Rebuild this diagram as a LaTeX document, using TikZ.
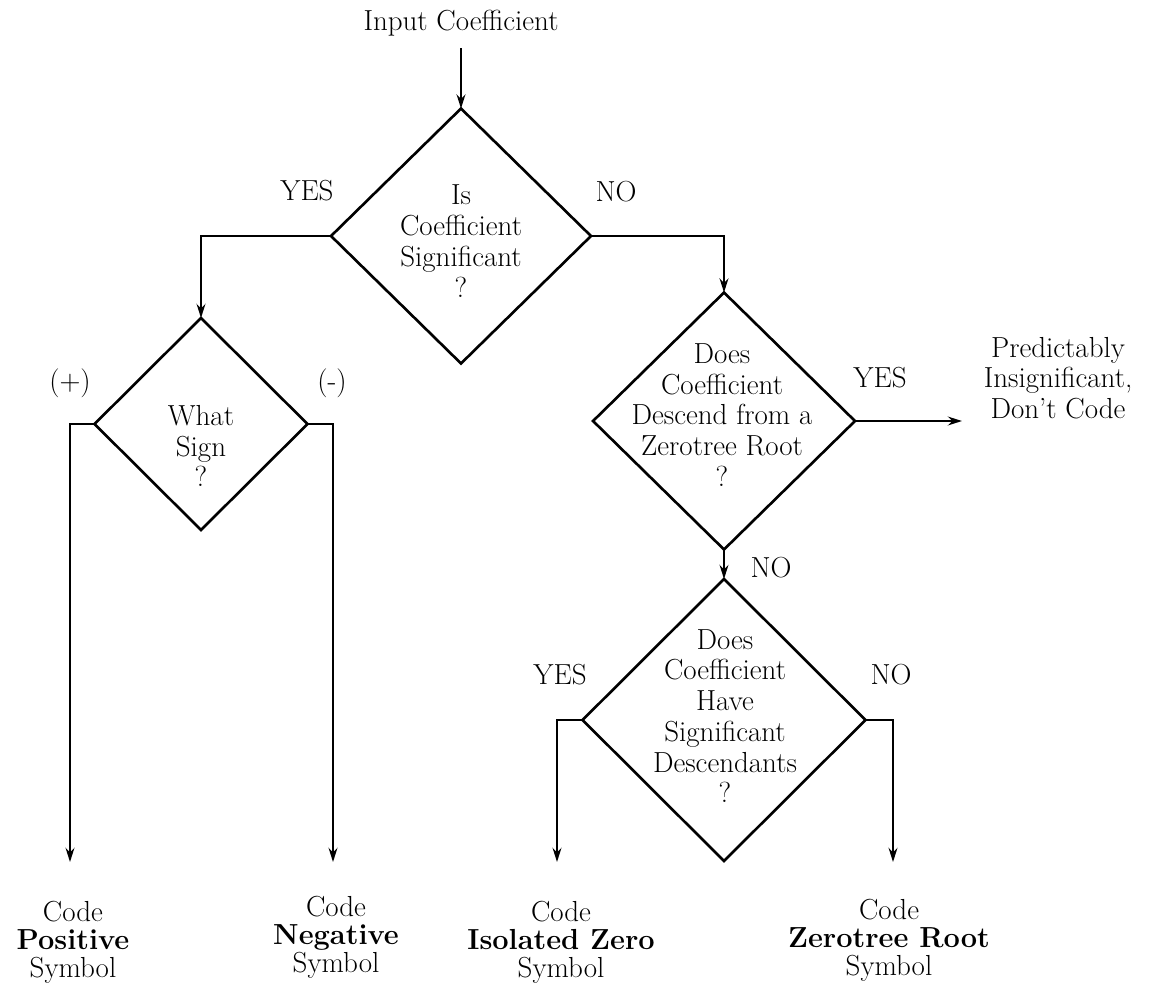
\documentclass[tikz,border=0pt]{standalone}
\usetikzlibrary{shapes.geometric,arrows.meta}
\begin{document}
\begin{tikzpicture}[x=0.02cm,y=-0.02cm,
  dia/.style={draw, diamond, line width=1.5pt, inner sep=0pt, outer sep=0pt},
  txt/.style={align=center, inner sep=0pt, font=\fontsize{16.5}{17.5}\selectfont},
  lbl/.style={inner sep=0pt, font=\fontsize{16.5}{17.5}\selectfont},
  bot/.style={align=center, inner sep=0pt, font=\fontsize{16.5}{16}\selectfont},
  conn/.style={line width=1.5pt, -{Stealth[length=8pt,width=5pt]}}]
\useasboundingbox (0,0) rectangle (1151,984);
% input
\node[lbl] (in) at (461,23) {Input Coefficient};
% diamonds
\node[dia, minimum width=5.2cm, minimum height=5.1cm] (d1) at (461,236) {};
\node[dia, minimum width=4.26cm, minimum height=4.24cm] (d2) at (201,424) {};
\node[dia, minimum width=5.24cm, minimum height=5.14cm] (d3) at (724,421) {};
\node[dia, minimum width=5.66cm, minimum height=5.64cm] (d4) at (724,720) {};
% diamond texts
\node[txt] (t1) at (461,241) {Is\\Coefficient\\Significant\\?};
\node[txt] (t2) at (201,446) {What\\Sign\\?};
\node[txt] (t3) at (722,415) {Does\\Coefficient\\Descend from a\\Zerotree Root\\?};
\node[txt] (t4) at (725,716) {Does\\Coefficient\\Have\\Significant\\Descendants\\?};
% branch labels
\node[lbl] (y1) at (307,191) {YES};
\node[lbl] (n1) at (616,192) {NO};
\node[lbl] (pl) at (70,383) {(+)};
\node[lbl] (mi) at (332,383) {(-)};
\node[lbl] (y3) at (880,378) {YES};
\node[lbl] (n3) at (771,568) {NO};
\node[lbl] (y4) at (560,675) {YES};
\node[lbl] (n4) at (891,675) {NO};
% outcome texts
\node[txt] (pred) at (1058,378) {Predictably\\Insignificant,\\Don't Code};
\node[bot] (b1) at (73,942) {Code\\\textbf{Positive}\\Symbol};
\node[bot] (b2) at (336,937) {Code\\\textbf{Negative}\\Symbol};
\node[bot] (b3) at (561,942) {Code\\\textbf{Isolated Zero}\\Symbol};
\node[bot] (b4) at (889,940) {Code\\\textbf{Zerotree Root}\\Symbol};
% arrow end points
\coordinate (e1) at (70,862);
\coordinate (e2) at (333,862);
\coordinate (e3) at (557,862);
\coordinate (e4) at (893,862);
\coordinate (ep) at (962,421);
\coordinate (s0) at (461,48);
% connectors
\draw[conn] (s0) -- (d1.north);
\draw[conn] (d1.west) -| (d2.north);
\draw[conn] (d1.east) -| (d3.north);
\draw[conn] (d2.west) -| (e1);
\draw[conn] (d2.east) -| (e2);
\draw[conn] (d3.east) -- (ep);
\draw[conn] (d3.south) -- (d4.north);
\draw[conn] (d4.west) -| (e3);
\draw[conn] (d4.east) -| (e4);
\end{tikzpicture}
\end{document}
